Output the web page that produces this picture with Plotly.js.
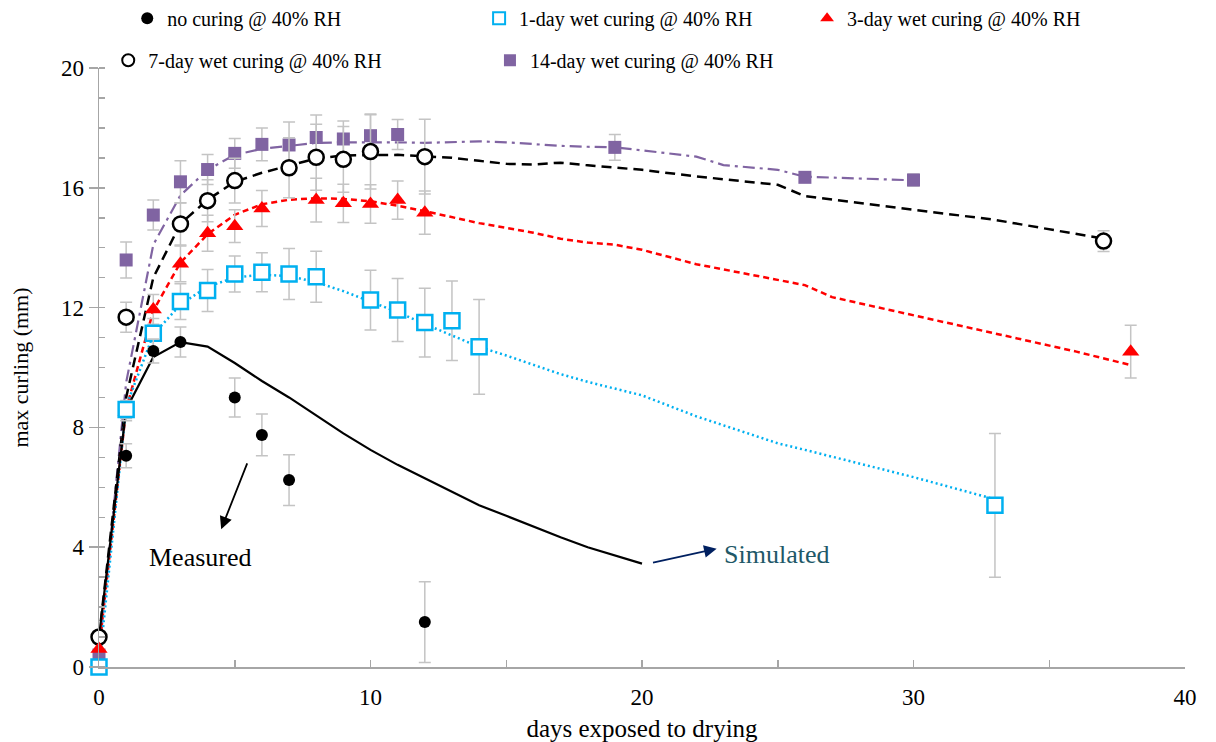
<!DOCTYPE html>
<html>
<head>
<meta charset="utf-8">
<script src="https://cdn.plot.ly/plotly-3.0.1.min.js"></script>
<style>
  html, body { margin: 0; padding: 0; background: #fff; }
  #chart { width: 1216px; height: 742px; }
</style>
</head>
<body>
<div id="chart"></div>
<script>
// Measured max curling (mm) vs days exposed to drying, with standard deviation
const noCuringDays = [1, 2, 3, 5, 6, 7, 12];
const noCuringVals = [7.05, 10.55, 10.85, 9.0, 7.75, 6.24, 1.5];
const noCuringErr  = [0.4, 0.4, 0.5, 0.65, 0.7, 0.85, 1.35];

const oneDayDays = [0, 1, 2, 3, 4, 5, 6, 7, 8, 10, 11, 12, 13, 14, 33];
const oneDayVals = [0, 8.6, 11.14, 12.2, 12.57, 13.12, 13.18, 13.12, 13.03, 12.25, 11.92, 11.5, 11.56, 10.69, 5.4];
const oneDayErr  = [0, 0.3, 0.5, 0.6, 0.7, 0.6, 0.65, 0.85, 0.85, 1.0, 1.05, 1.15, 1.33, 1.58, 2.4];

const threeDayDays = [0, 1, 2, 3, 4, 5, 6, 8, 9, 10, 11, 12, 38];
const threeDayVals = [0.6, 8.52, 11.94, 13.46, 14.48, 14.72, 15.31, 15.59, 15.48, 15.46, 15.59, 15.17, 10.53];
const threeDayErr  = [0, 0.3, 0.5, 0.6, 0.6, 0.55, 0.6, 0.73, 0.64, 0.64, 0.64, 0.72, 0.88];

const sevenDayDays = [0, 1, 3, 4, 5, 7, 8, 9, 10, 12, 37];
const sevenDayVals = [1.0, 11.68, 14.79, 15.57, 16.24, 16.67, 17.02, 16.95, 17.21, 17.04, 14.22];
const sevenDayErr  = [0, 0.5, 0.7, 0.7, 0.75, 1.0, 1.1, 1.1, 1.25, 1.25, 0.35];

const fourteenDayDays = [0, 1, 2, 3, 4, 5, 6, 7, 8, 9, 10, 11, 19, 26, 30];
const fourteenDayVals = [0.4, 13.59, 15.09, 16.2, 16.61, 17.15, 17.45, 17.43, 17.68, 17.63, 17.74, 17.78, 17.35, 16.35, 16.26];
const fourteenDayErr  = [0, 0.6, 0.5, 0.7, 0.5, 0.5, 0.55, 0.77, 0.75, 0.6, 0.7, 0.5, 0.43, 0.15, 0.2];

// Simulated curves
const noCuringSimDays = [0, 1, 2, 3, 4, 5, 6, 7, 8, 9, 10, 11, 12, 13, 14, 15, 16, 17, 18, 19, 20];
const noCuringSimVals = [1.0, 8.6, 10.35, 10.85, 10.7, 10.15, 9.55, 9.0, 8.4, 7.8, 7.25, 6.75, 6.3, 5.85, 5.4, 5.05, 4.68, 4.33, 4.0, 3.72, 3.45];

const oneDaySimDays = [0, 1, 2, 3, 4, 5, 6, 7, 8, 9, 10, 11, 12, 13, 14, 15, 16, 17, 18, 19, 20, 22, 24, 25, 26, 28, 30, 33];
const oneDaySimVals = [0, 8.7, 11.1, 12.1, 12.7, 13.0, 13.1, 13.05, 12.85, 12.55, 12.2, 11.85, 11.45, 11.08, 10.69, 10.4, 10.08, 9.78, 9.52, 9.3, 9.07, 8.37, 7.78, 7.47, 7.25, 6.8, 6.34, 5.6];

const threeDaySimDays = [0, 1, 2, 3, 4, 5, 6, 7, 8, 9, 10, 11, 12, 13, 14, 16, 17, 18, 19, 20, 22, 24, 25, 26, 27, 28, 30, 33, 36, 38];
const threeDaySimVals = [0.6, 8.6, 11.9, 13.5, 14.45, 15.1, 15.45, 15.6, 15.65, 15.63, 15.55, 15.4, 15.22, 15.02, 14.82, 14.5, 14.3, 14.17, 14.1, 13.93, 13.45, 13.1, 12.92, 12.75, 12.35, 12.15, 11.75, 11.14, 10.53, 10.08];

const sevenDaySimDays = [0, 1, 2, 3, 4, 5, 6, 7, 8, 9, 10, 11, 12, 13, 14, 15, 16, 17, 18, 19, 20, 22, 24, 25, 26, 28, 30, 33, 37];
const sevenDaySimVals = [1.0, 9.0, 13.0, 14.8, 15.6, 16.2, 16.5, 16.75, 16.98, 17.08, 17.1, 17.1, 17.05, 17.0, 16.9, 16.8, 16.78, 16.84, 16.75, 16.67, 16.6, 16.38, 16.2, 16.1, 15.72, 15.5, 15.27, 14.93, 14.3];

const fourteenDaySimDays = [0, 1, 2, 3, 4, 5, 6, 7, 8, 9, 10, 11, 12, 13, 14, 15, 16, 17, 18, 19, 20, 21, 22, 23, 24, 25, 26, 28, 30];
const fourteenDaySimVals = [0.4, 9.5, 14.1, 15.75, 16.6, 17.1, 17.3, 17.4, 17.5, 17.52, 17.53, 17.52, 17.5, 17.52, 17.55, 17.52, 17.45, 17.4, 17.37, 17.35, 17.25, 17.15, 17.04, 16.76, 16.68, 16.6, 16.37, 16.3, 16.25];

const seriesNames = [
  'no curing @ 40% RH',
  '1-day wet curing @ 40% RH',
  '3-day wet curing @ 40% RH',
  '7-day wet curing @ 40% RH',
  '14-day wet curing @ 40% RH'
];

const SERIF = '"Liberation Serif", "Times New Roman", serif';
const BLUE = '#00B0F0';
const RED = '#FF0000';
const PURPLE = '#8064A2';
const ERR = '#C4C4C4';

function simLine(x, y, color, dash, width) {
  return {
    type: 'scatter', mode: 'lines', x: x, y: y,
    line: { color: color, dash: dash, width: width },
    showlegend: false, hoverinfo: 'skip', cliponaxis: false
  };
}

function measured(x, y, err, name, marker, legendId) {
  return {
    type: 'scatter', mode: 'markers', x: x, y: y, name: name,
    marker: marker,
    error_y: { type: 'data', array: err, visible: true, color: ERR, thickness: 1.5, width: 6 },
    legend: legendId, cliponaxis: false
  };
}

const traces = [
  simLine(fourteenDaySimDays, fourteenDaySimVals, PURPLE, '12px,5px,3px,5px', 2.2),
  simLine(sevenDaySimDays, sevenDaySimVals, '#000000', '10px,6px', 2.5),
  simLine(threeDaySimDays, threeDaySimVals, RED, '6px,4px', 2.5),
  simLine(oneDaySimDays, oneDaySimVals, BLUE, '2px,3px', 2.5),
  simLine(noCuringSimDays, noCuringSimVals, '#000000', 'solid', 2.2),

  measured(fourteenDayDays, fourteenDayVals, fourteenDayErr, seriesNames[4],
    { symbol: 'square', size: 13, color: PURPLE, line: { width: 0 } }, 'legend5'),
  measured(sevenDayDays, sevenDayVals, sevenDayErr, seriesNames[3],
    { symbol: 'circle', size: 15, color: '#ffffff', line: { color: '#000000', width: 2.5 } }, 'legend4'),
  measured(threeDayDays, threeDayVals, threeDayErr, seriesNames[2],
    { symbol: 'triangle-up', size: 15, color: RED, line: { width: 0 } }, 'legend3'),
  measured(oneDayDays, oneDayVals, oneDayErr, seriesNames[1],
    { symbol: 'square', size: 15, color: '#ffffff', line: { color: BLUE, width: 2.5 } }, 'legend2'),
  measured(noCuringDays, noCuringVals, noCuringErr, seriesNames[0],
    { symbol: 'circle', size: 12, color: '#000000', line: { width: 0 } }, 'legend')
];

function legendAt(x, y) {
  return {
    x: x, y: y, xanchor: 'left', yanchor: 'middle', orientation: 'h',
    bgcolor: 'rgba(0,0,0,0)', borderwidth: 0,
    font: { family: SERIF, size: 20, color: '#000' },
    itemwidth: 30, itemsizing: 'constant'
  };
}

const axisColor = '#A6A6A6';

const layout = {
  width: 1216, height: 742, autosize: false,
  margin: { l: 99, r: 31, t: 68, b: 75, autoexpand: false },
  paper_bgcolor: '#ffffff', plot_bgcolor: '#ffffff',
  font: { family: SERIF, size: 20, color: '#000' },
  showlegend: true,
  legend:  legendAt(0.026, 1.083),
  legend2: legendAt(0.350, 1.083),
  legend3: legendAt(0.652, 1.083),
  legend4: legendAt(0.0085, 1.013),
  legend5: legendAt(0.360, 1.013),
  xaxis: {
    range: [0, 40], tickvals: [0, 10, 20, 30, 40],
    showgrid: false, zeroline: false,
    showline: true, linecolor: axisColor, linewidth: 1.5,
    ticks: 'inside', ticklen: 7, tickcolor: axisColor, tickwidth: 1.5,
    minor: { tickvals: [5, 15, 25, 35], ticks: 'inside', ticklen: 7, tickcolor: axisColor, tickwidth: 1.5 },
    tickfont: { family: SERIF, size: 23, color: '#000' },
    ticklabelstandoff: 9,
    title: { text: 'days exposed to drying', font: { family: SERIF, size: 25, color: '#000' }, standoff: 11 },
    automargin: false
  },
  yaxis: {
    range: [0, 20], tickvals: [0, 4, 8, 12, 16, 20],
    showgrid: false, zeroline: false,
    showline: true, linecolor: axisColor, linewidth: 1.5,
    ticks: 'outside', ticklen: 9, tickcolor: axisColor, tickwidth: 1.5,
    minor: { dtick: 1, ticks: 'inside', ticklen: 6, tickcolor: axisColor, tickwidth: 1.5 },
    tickfont: { family: SERIF, size: 23, color: '#000' },
    title: { text: 'max curling (mm)', font: { family: SERIF, size: 22, color: '#000' }, standoff: 26 },
    automargin: false
  },
  annotations: [
    { xref: 'x', yref: 'y', x: 3.72, y: 3.64, text: 'Measured', showarrow: false,
      font: { family: SERIF, size: 26, color: '#000' } },
    { xref: 'x', yref: 'y', x: 4.5, y: 4.6, axref: 'x', ayref: 'y', ax: 5.48, ay: 6.85,
      text: '', showarrow: true, arrowhead: 2, arrowsize: 1.4, arrowwidth: 1.8, arrowcolor: '#000' },
    { xref: 'x', yref: 'y', x: 24.95, y: 3.75, text: 'Simulated', showarrow: false,
      font: { family: SERIF, size: 26, color: '#215868' } },
    { xref: 'x', yref: 'y', x: 22.75, y: 3.95, axref: 'x', ayref: 'y', ax: 20.35, ay: 3.47,
      text: '', showarrow: true, arrowhead: 2, arrowsize: 1.4, arrowwidth: 1.8, arrowcolor: '#002060' }
  ]
};

Plotly.newPlot('chart', traces, layout, { displayModeBar: false, staticPlot: true });
</script>
</body>
</html>
